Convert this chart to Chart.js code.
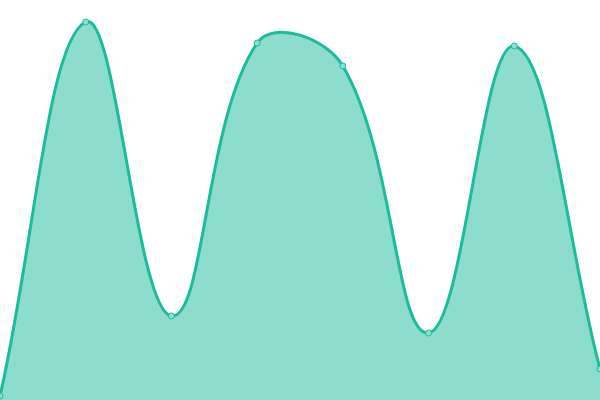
<!DOCTYPE html>
<html>
<head>
<meta charset="utf-8">
<script src="https://cdn.jsdelivr.net/npm/chart.js@4/dist/chart.umd.min.js"></script>
<style>
html,body{margin:0;padding:0;background:#fff;}
#wrap{width:600px;height:400px;}
</style>
</head>
<body>
<div id="wrap"><canvas id="c" width="600" height="400"></canvas></div>
<script>
const labels = ["A", "B", "C", "D", "E", "F", "G", "H"];
const values = [4, 378, 84, 357, 334, 67, 354, 31];

new Chart(document.getElementById('c'), {
  type: 'line',
  data: {
    labels: labels,
    datasets: [{
      data: values,
      borderColor: '#1abc9c',
      backgroundColor: 'rgba(26,188,156,0.5)',
      pointBackgroundColor: 'rgba(140,224,207,1)',
      pointBorderColor: '#1abc9c',
      pointBorderWidth: 1,
      pointRadius: 3,
      borderWidth: 3,
      tension: 0.4,
      fill: 'start',
      clip: false
    }]
  },
  options: {
    responsive: false,
    animation: false,
    layout: { padding: 0, autoPadding: false },
    plugins: { legend: { display: false }, tooltip: { enabled: false } },
    scales: {
      x: { display: false, offset: false },
      y: { display: false, min: 0, max: 400 }
    }
  }
});
</script>
</body>
</html>
